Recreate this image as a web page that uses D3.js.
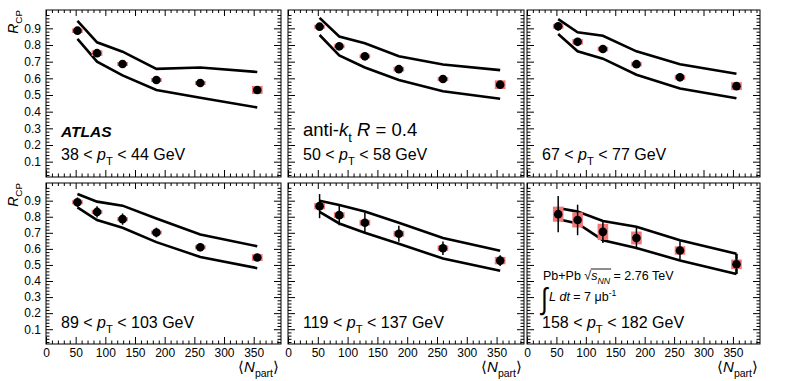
<!DOCTYPE html>
<html>
<head>
<meta charset="utf-8">
<script src="https://cdn.jsdelivr.net/npm/d3@7"></script>
<style>
  body { margin: 0; background: #fff; }
  text { font-family: "Liberation Sans", Arial, Helvetica, sans-serif; fill: #000; }
</style>
</head>
<body>
<div class="chartArea"></div>
<script>
// centrality points (<Npart>) shared by every panel
const npart = [53, 86, 129, 186, 260, 356]
const ptBins = [[38, 44], [50, 58], [67, 77], [89, 103], [119, 137], [158, 182]]

// R_CP values per pT bin
const rcp = [
  [0.886, 0.751, 0.686, 0.590, 0.572, 0.530],
  [0.910, 0.792, 0.732, 0.655, 0.596, 0.562],
  [0.912, 0.819, 0.776, 0.685, 0.606, 0.553],
  [0.890, 0.830, 0.785, 0.702, 0.610, 0.546],
  [0.866, 0.810, 0.763, 0.694, 0.604, 0.527],
  [0.816, 0.780, 0.706, 0.668, 0.590, 0.504]
]
const statErr = [
  [0.010, 0.010, 0.010, 0.010, 0.010, 0.010],
  [0.020, 0.010, 0.010, 0.010, 0.010, 0.010],
  [0.025, 0.020, 0.020, 0.010, 0.010, 0.010],
  [0.030, 0.035, 0.035, 0.030, 0.025, 0.020],
  [0.075, 0.063, 0.063, 0.050, 0.042, 0.034],
  [0.113, 0.095, 0.070, 0.070, 0.058, 0.035]
]
const sysErr = [
  [0.014, 0.017, 0.012, 0.012, 0.012, 0.024],
  [0.012, 0.012, 0.012, 0.014, 0.012, 0.026],
  [0.014, 0.017, 0.014, 0.014, 0.014, 0.024],
  [0.013, 0.013, 0.013, 0.012, 0.013, 0.021],
  [0.020, 0.018, 0.018, 0.018, 0.017, 0.023],
  [0.047, 0.047, 0.050, 0.040, 0.026, 0.030]
]
// upper and lower edges of the model band
const bandHigh = [
  [0.945, 0.816, 0.760, 0.657, 0.665, 0.638],
  [0.963, 0.851, 0.811, 0.732, 0.683, 0.649],
  [0.955, 0.876, 0.855, 0.762, 0.685, 0.627],
  [0.942, 0.894, 0.869, 0.789, 0.690, 0.616],
  [0.900, 0.873, 0.833, 0.762, 0.668, 0.588],
  [0.854, 0.832, 0.773, 0.738, 0.654, 0.570]
]
const bandLow = [
  [0.837, 0.700, 0.618, 0.530, 0.484, 0.425],
  [0.860, 0.738, 0.665, 0.590, 0.523, 0.477],
  [0.866, 0.762, 0.718, 0.622, 0.539, 0.481],
  [0.858, 0.779, 0.731, 0.642, 0.550, 0.480],
  [0.830, 0.758, 0.700, 0.632, 0.540, 0.464],
  [0.785, 0.758, 0.654, 0.606, 0.528, 0.444]
]
const bandClosed = [false, false, false, false, false, true]

const yTicks = [0.1, 0.2, 0.3, 0.4, 0.5, 0.6, 0.7, 0.8, 0.9]
const xTicks = [0, 50, 100, 150, 200, 250, 300, 350]

let width = 796, height = 381

// panel frames (pixels)
const frames = [
  {l: 46, r: 281, t: 10, b: 177},
  {l: 288, r: 524, t: 10, b: 177},
  {l: 527, r: 760, t: 10, b: 177},
  {l: 46, r: 281, t: 183, b: 344},
  {l: 288, r: 524, t: 183, b: 344},
  {l: 527, r: 760, t: 183, b: 344}
]

const svg = d3.select('.chartArea')
  .append('svg')
  .attr('width', width)
  .attr('height', height)

// text with italic / sub / sup pieces
function rich(g, x, y, size, parts, anchor) {
  const t = g.append('text')
    .attr('x', x).attr('y', y)
    .attr('font-size', size)
    .attr('text-anchor', anchor || 'start')
  let shift = 0
  parts.forEach(p => {
    let target = 0, fs = size
    if (p.sub) { target = size * 0.3; fs = size * 0.7 }
    if (p.sup) { target = -size * 0.4; fs = size * 0.7 }
    const s = t.append('tspan').text(p.t)
      .attr('dy', target - shift)
      .attr('font-size', fs)
    if (p.i) s.attr('font-style', 'italic')
    if (p.b) s.attr('font-weight', 'bold')
    shift = target
  })
  return t
}

frames.forEach((f, k) => {
  const row = k < 3 ? 0 : 1
  const col = k % 3
  const g = svg.append('g')

  const x = d3.scaleLinear().domain([0, 396]).range([f.l, f.r])
  const y = d3.scaleLinear().domain([0.008, 1.01]).range([f.b, f.t])

  const minorY = d3.range(0.02, 1.0, 0.02).filter(v => Math.abs(v * 10 - Math.round(v * 10)) > 0.01)
  const minorX = d3.range(10, 396, 10).filter(v => v % 50 !== 0)

  // ticks on all four sides, pointing inwards
  const axes = [
    [d3.axisLeft(y).tickValues(yTicks).tickSize(-7).tickPadding(5), f.l, 0, col === 0],
    [d3.axisLeft(y).tickValues(minorY).tickSize(-3.5), f.l, 0, false],
    [d3.axisRight(y).tickValues(yTicks).tickSize(-7), f.r, 0, false],
    [d3.axisRight(y).tickValues(minorY).tickSize(-3.5), f.r, 0, false],
    [d3.axisBottom(x).tickValues(xTicks).tickSize(-7).tickPadding(4), 0, f.b, row === 1],
    [d3.axisBottom(x).tickValues(minorX).tickSize(-3.5), 0, f.b, false],
    [d3.axisTop(x).tickValues(xTicks).tickSize(-6), 0, f.t, false],
    [d3.axisTop(x).tickValues(minorX).tickSize(-3), 0, f.t, false]
  ]
  axes.forEach(([ax, tx, ty, labels]) => {
    const a = g.append('g')
      .attr('transform', `translate(${tx},${ty})`)
      .call(ax.tickFormat(d => labels ? d3.format('')(d) : ''))
    a.select('.domain').remove()
    a.selectAll('line').attr('stroke', '#000').attr('stroke-width', 1)
    a.selectAll('text').attr('font-size', 12).attr('font-family', '"Liberation Sans", Arial, sans-serif').attr('fill', '#000')
  })

  g.append('rect')
    .attr('x', f.l).attr('y', f.t)
    .attr('width', f.r - f.l).attr('height', f.b - f.t)
    .attr('fill', 'none').attr('stroke', '#000').attr('stroke-width', 1)

  // model band
  const line = d3.line().x((d, i) => x(npart[i])).y(d => y(d))
  ;[bandHigh[k], bandLow[k]].forEach(vals => {
    g.append('path').attr('d', line(vals))
      .attr('fill', 'none').attr('stroke', '#000').attr('stroke-width', 2.6)
  })
  if (bandClosed[k]) {
    [0, npart.length - 1].forEach(i => {
      g.append('line')
        .attr('x1', x(npart[i])).attr('x2', x(npart[i]))
        .attr('y1', y(bandHigh[k][i])).attr('y2', y(bandLow[k][i]))
        .attr('stroke', '#000').attr('stroke-width', 2.6)
    })
  }

  // systematic boxes
  g.selectAll('rect.sys').data(rcp[k]).enter().append('rect')
    .attr('class', 'sys')
    .attr('x', (d, i) => x(npart[i] - 9))
    .attr('width', (d, i) => x(npart[i] + 9) - x(npart[i] - 9))
    .attr('y', (d, i) => y(d + sysErr[k][i]))
    .attr('height', (d, i) => y(d - sysErr[k][i]) - y(d + sysErr[k][i]))
    .attr('fill', '#f47777')

  // statistical bars
  g.selectAll('line.stat').data(rcp[k]).enter().append('line')
    .attr('class', 'stat')
    .attr('x1', (d, i) => x(npart[i])).attr('x2', (d, i) => x(npart[i]))
    .attr('y1', (d, i) => y(d + statErr[k][i]))
    .attr('y2', (d, i) => y(d - statErr[k][i]))
    .attr('stroke', '#000').attr('stroke-width', 1.5)

  g.selectAll('circle').data(rcp[k]).enter().append('circle')
    .attr('cx', (d, i) => x(npart[i]))
    .attr('cy', d => y(d))
    .attr('r', 4.3)
    .attr('fill', '#000')

  // pT bin label
  const bin = ptBins[k]
  rich(g, f.l + 15, row === 0 ? 160 : 328, 16, [
    {t: bin[0] + ' < '}, {t: 'p', i: true}, {t: 'T', sub: true}, {t: ' < ' + bin[1] + ' GeV'}
  ])

  if (col === 0) {
    const yl = g.append('g').attr('transform', `translate(17.5,${f.t}) rotate(-90)`)
    rich(yl, 0, 0, 14, [{t: 'R', i: true}, {t: 'CP', sub: true}], 'end')
  }
  if (row === 1) {
    rich(g, f.r - 2, 372, 15, [{t: '\u27E8'}, {t: 'N', i: true}, {t: 'part', sub: true}, {t: '\u27E9'}], 'end')
  }
})

// panel annotations
rich(svg, 61, 137, 15.5, [{t: 'ATLAS', i: true, b: true}])
rich(svg, 303, 136, 18.5, [
  {t: 'anti-'}, {t: 'k', i: true}, {t: 't', sub: true}, {t: ' '}, {t: 'R', i: true}, {t: ' = 0.4'}
])

const pb = rich(svg, 543, 280, 12.5, [
  {t: 'Pb+Pb \u221A'}, {t: 's', i: true}, {t: 'NN', sub: true, i: true}, {t: ' = 2.76 TeV'}
])
const pbNode = pb.node()
const r0 = pbNode.getEndPositionOfChar(6)
const r1 = pbNode.getEndPositionOfChar(9)
svg.append('line')
  .attr('x1', r0.x - 0.5).attr('x2', r1.x + 1)
  .attr('y1', 280 - 11).attr('y2', 280 - 11)
  .attr('stroke', '#000').attr('stroke-width', 0.9)

svg.append('text').attr('x', 541).attr('y', 309).attr('font-size', 30).attr('transform', 'translate(541,309) scale(0.8,1) translate(-541,-309)').text('\u222B')
rich(svg, 549, 301, 12.5, [
  {t: 'L', i: true}, {t: ' '}, {t: 'dt', i: true}, {t: ' = 7 \u03BCb'}, {t: '-1', sup: true}
])
</script>
</body>
</html>
